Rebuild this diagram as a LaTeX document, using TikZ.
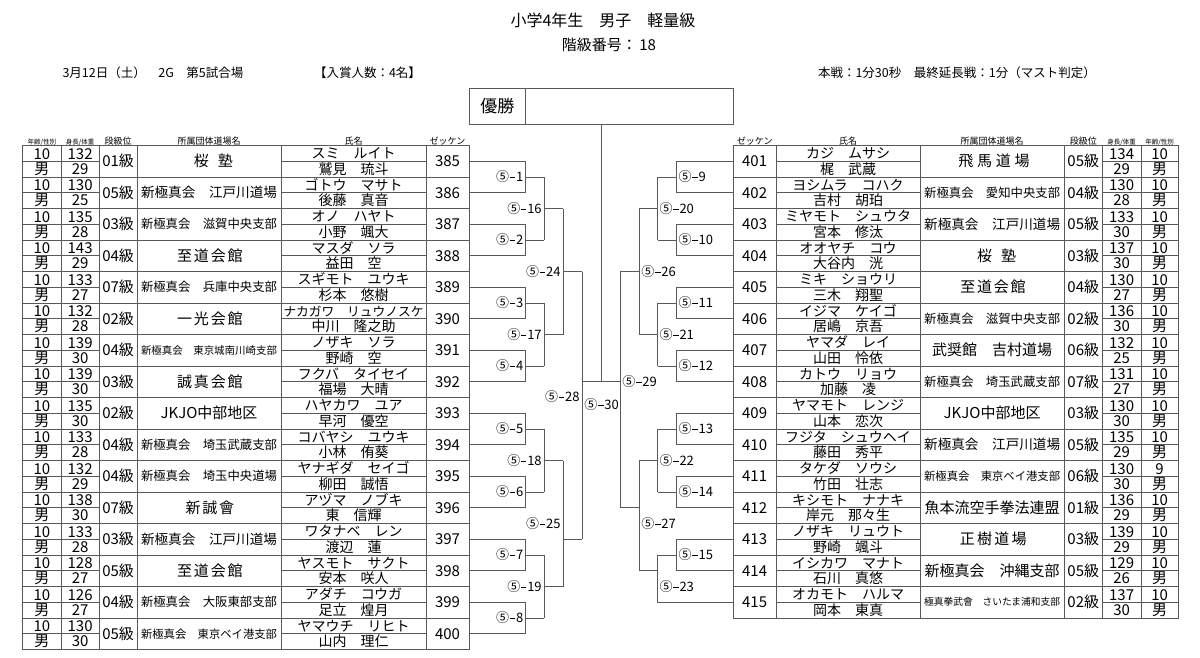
\documentclass[tikz,border=0pt]{standalone}
\usepackage{fontspec}
\setmainfont{Noto Sans CJK JP}
\usepackage{graphicx}
\newsavebox\fitbox
\newcommand\fitto[2]{\sbox\fitbox{#2}\ifdim\wd\fitbox>#1\relax\resizebox{#1}{!}{\usebox\fitbox}\else\usebox\fitbox\fi}
\newcommand\lsp[2]{{\addfontfeature{LetterSpace=#1}#2}\kern-\dimexpr0.01em*#1\relax}
\newcommand\dsh{\kern0.06em\rule[0.3em]{0.42em}{0.065em}\kern0.06em}
\newcommand\mlab[1]{⑤\dsh#1}
\begin{document}
\begin{tikzpicture}[x=1pt,y=-1pt,
  every node/.style={inner sep=0pt,outer sep=0pt},
  ln/.style={line width=0.75pt,draw=black!65},
  num/.style={font=\fontsize{15}{15}\selectfont,anchor=base},
  ctr/.style={font=\fontsize{15}{15}\selectfont,anchor=center},
  nm/.style={font=\fontsize{14}{14}\selectfont,anchor=base},
  lb/.style={font=\fontsize{13}{13}\selectfont},
  hd/.style={font=\fontsize{9}{9}\selectfont,anchor=base},
  hs/.style={font=\fontsize{6.5}{6.5}\selectfont,anchor=base}]
\useasboundingbox (0,0) rectangle (1200,657);
\fill[white] (0,0) rectangle (1200,657);
% titles
\node[font=\fontsize{16}{16}\selectfont] (title) at (603,20) {小学4年生　男子　軽量級};
\node[font=\fontsize{15}{15}\selectfont] (cls) at (609,45) {階級番号：\,18};
\node[font=\fontsize{12.5}{12.5}\selectfont,anchor=west] (info1) at (62.5,73) {3月12日（土）　2G　第5試合場};
\node[font=\fontsize{12.5}{12.5}\selectfont,anchor=west] (info2) at (314,73) {【入賞人数：4名】};
\node[font=\fontsize{12.5}{12.5}\selectfont,anchor=west] (info3) at (818,73) {本戦：1分30秒　最終延長戦：1分（マスト判定）};
% champion box
\draw[ln] (469,88.3) rectangle (733,124.3);
\draw[ln] (525.7,88.3) -- (525.7,124.3);
\node[font=\fontsize{17}{17}\selectfont] (champ) at (497.4,106.3) {優勝};
% left headers
\node[hs] (lh1) at (41.85,144) {年齢/性別};
\node[hs] (lh2) at (80.15,144) {身長/体重};
\node[hd] (lh3) at (118.15,144) {段級位};
\node[hd] (lh4) at (209,144) {所属団体道場名};
\node[hd] (lh5) at (353.5,144) {氏名};
\node[hd] (lh6) at (447.5,144) {ゼッケン};
% right headers
\node[hd] (rh6) at (754.65,144) {ゼッケン};
\node[hd] (rh5) at (848,144) {氏名};
\node[hd] (rh4) at (992.15,144) {所属団体道場名};
\node[hd] (rh3) at (1083.3,144) {段級位};
\node[hs] (rh2) at (1121.65,144) {身長/体重};
\node[hs] (rh1) at (1159.65,144) {年齢/性別};
% left table grid
\draw[ln] (22.7,145.5) rectangle (469,649.5);
\foreach \x in {61,99.3,137,281,426} \draw[ln] (\x,145.5) -- (\x,649.5);
\foreach \n in {1,...,15} \draw[ln] (22.7,145.5+31.5*\n) -- (469,145.5+31.5*\n);
\foreach \n in {0,...,15} {
  \draw[ln] (22.7,161.25+31.5*\n) -- (99.3,161.25+31.5*\n);
  \draw[ln] (281,161.25+31.5*\n) -- (426,161.25+31.5*\n);
}
% right table grid
\draw[ln] (733.3,145.5) rectangle (1178.3,618);
\foreach \x in {776,920,1064.3,1102.3,1141} \draw[ln] (\x,145.5) -- (\x,618);
\foreach \n in {1,...,14} \draw[ln] (733.3,145.5+31.5*\n) -- (1178.3,145.5+31.5*\n);
\foreach \n in {0,...,14} {
  \draw[ln] (776,161.25+31.5*\n) -- (920,161.25+31.5*\n);
  \draw[ln] (1102.3,161.25+31.5*\n) -- (1178.3,161.25+31.5*\n);
}
% left data
\foreach \ag/\sx/\hh/\ww/\rk/\dj/\ka/\kj/\zk [count=\n from 0] in {
 10/男/132/29/01級/\lsp{60}{桜塾}/スミ　ルイト/鷲見　琉斗/385,
 10/男/130/25/05級/新極真会　江戸川道場/ゴトウ　マサト/後藤　真音/386,
 10/男/135/28/03級/新極真会　滋賀中央支部/オノ　ハヤト/小野　颯大/387,
 10/男/143/29/04級/\lsp{12}{至道会館}/マスダ　ソラ/益田　空/388,
 10/男/133/27/07級/新極真会　兵庫中央支部/スギモト　ユウキ/杉本　悠樹/389,
 10/男/132/28/02級/\lsp{12}{一光会館}/ナカガワ　リュウノスケ/中川　隆之助/390,
 10/男/139/30/04級/新極真会　東京城南川崎支部/ノザキ　ソラ/野崎　空/391,
 10/男/139/30/03級/\lsp{12}{誠真会館}/フクバ　タイセイ/福場　大晴/392,
 10/男/135/30/02級/JKJO中部地区/ハヤカワ　ユア/早河　優空/393,
 10/男/133/28/04級/新極真会　埼玉武蔵支部/コバヤシ　ユウキ/小林　侑葵/394,
 10/男/132/29/04級/新極真会　埼玉中央道場/ヤナギダ　セイゴ/柳田　誠悟/395,
 10/男/138/30/07級/\lsp{12}{新誠會}/アヅマ　ノブキ/東　信輝/396,
 10/男/133/28/03級/新極真会　江戸川道場/ワタナベ　レン/渡辺　蓮/397,
 10/男/128/27/05級/\lsp{12}{至道会館}/ヤスモト　サクト/安本　咲人/398,
 10/男/126/27/04級/新極真会　大阪東部支部/アダチ　コウガ/足立　煌月/399,
 10/男/130/30/05級/新極真会　東京ベイ港支部/ヤマウチ　リヒト/山内　理仁/400}{
  \pgfmathsetmacro\yt{145.5+31.5*\n}
  \node[num] (la\n) at (41.85,\yt+13.5) {\ag};
  \node[num] (ls\n) at (41.85,\yt+28.8) {\sx};
  \node[num] (lh\n) at (80.15,\yt+13.5) {\hh};
  \node[num] (lw\n) at (80.15,\yt+28.8) {\ww};
  \node[ctr] (lr\n) at (118.15,\yt+15.75) {\rk};
  \node[ctr] (ld\n) at (209,\yt+15.75) {\fitto{136pt}{\dj}};
  \node[nm] (lk\n) at (353.5,\yt+13.3) {\fitto{140pt}{\ka}};
  \node[nm] (lj\n) at (353.5,\yt+28.8) {\fitto{140pt}{\kj}};
  \node[ctr] (lz\n) at (447.5,\yt+15.75) {\zk};
}
% right data
\foreach \zk/\ka/\kj/\dj/\rk/\hh/\ww/\ag/\sx [count=\n from 0] in {
 401/カジ　ムサシ/梶　武蔵/\lsp{25}{飛馬道場}/05級/134/29/10/男,
 402/ヨシムラ　コハク/吉村　胡珀/新極真会　愛知中央支部/04級/130/28/10/男,
 403/ミヤモト　シュウタ/宮本　修汰/新極真会　江戸川道場/05級/133/30/10/男,
 404/オオヤチ　コウ/大谷内　洸/\lsp{60}{桜塾}/03級/137/30/10/男,
 405/ミキ　ショウリ/三木　翔聖/\lsp{12}{至道会館}/04級/130/27/10/男,
 406/イジマ　ケイゴ/居嶋　京吾/新極真会　滋賀中央支部/02級/136/30/10/男,
 407/ヤマダ　レイ/山田　怜依/武奨館　吉村道場/06級/132/25/10/男,
 408/カトウ　リョウ/加藤　凌/新極真会　埼玉武蔵支部/07級/131/27/10/男,
 409/ヤマモト　レンジ/山本　恋次/JKJO中部地区/03級/130/30/10/男,
 410/フジタ　シュウヘイ/藤田　秀平/新極真会　江戸川道場/05級/135/29/10/男,
 411/タケダ　ソウシ/竹田　壮志/新極真会　東京ベイ港支部/06級/130/30/9/男,
 412/キシモト　ナナキ/岸元　那々生/魚本流空手拳法連盟/01級/136/29/10/男,
 413/ノザキ　リュウト/野崎　颯斗/\lsp{15}{正樹道場}/03級/139/29/10/男,
 414/イシカワ　マナト/石川　真悠/新極真会　沖縄支部/05級/129/26/10/男,
 415/オカモト　ハルマ/岡本　東真/極真拳武會　さいたま浦和支部/02級/137/30/10/男}{
  \pgfmathsetmacro\yt{145.5+31.5*\n}
  \node[ctr] (rz\n) at (754.65,\yt+15.75) {\zk};
  \node[nm] (rk\n) at (848,\yt+13.3) {\fitto{140pt}{\ka}};
  \node[nm] (rj\n) at (848,\yt+28.8) {\fitto{140pt}{\kj}};
  \node[ctr] (rd\n) at (992.15,\yt+15.75) {\fitto{136pt}{\dj}};
  \node[ctr] (rr\n) at (1083.3,\yt+15.75) {\rk};
  \node[num] (rh\n) at (1121.65,\yt+13.5) {\hh};
  \node[num] (rw\n) at (1121.65,\yt+28.8) {\ww};
  \node[num] (ra\n) at (1159.65,\yt+13.5) {\ag};
  \node[num] (rs\n) at (1159.65,\yt+28.8) {\sx};
}
% left bracket round 1
\foreach \m/\lab in {0/1,1/2,2/3,3/4,4/5,5/6,6/7,7/8} {
  \pgfmathsetmacro\ys{161.25+63*\m}
  \draw[ln] (469,\ys) -- (525.7,\ys) -- (525.7,\ys+31.5) -- (469,\ys+31.5);
  \draw[ln] (525.7,\ys+15.75) -- (544.3,\ys+15.75);
  \node[lb,anchor=east] (mL\lab) at (523.3,\ys+15.75) {\mlab{\lab}};
}
% left round 2
\foreach \m/\lab in {0/16,1/17,2/18,3/19} {
  \pgfmathsetmacro\ys{177+126*\m}
  \draw[ln] (544.3,\ys) -- (544.3,\ys+63);
  \draw[ln] (544.3,\ys+31.5) -- (563.3,\ys+31.5);
  \node[lb,anchor=east] (mL\lab) at (541.7,\ys+31.5) {\mlab{\lab}};
}
% left round 3
\draw[ln] (563.3,208.5) -- (563.3,334.5);
\draw[ln] (563.3,271.5) -- (582.3,271.5);
\node[lb,anchor=east] (mL24) at (560.5,271.5) {\mlab{24}};
\draw[ln] (563.3,460.5) -- (563.3,586.5);
\draw[ln] (563.3,539.25) -- (582.3,539.25);
\node[lb,anchor=east] (mL25) at (560.5,523.5) {\mlab{25}};
% left semifinal
\draw[ln] (582.3,271.5) -- (582.3,539.25);
\node[lb,anchor=east] (mL28) at (579.5,397) {\mlab{28}};
% right bracket round 1
\foreach \m/\lab in {0/9,1/10,2/11,3/12,4/13,5/14,6/15} {
  \pgfmathsetmacro\ys{161.25+63*\m}
  \draw[ln] (733.3,\ys) -- (676.7,\ys) -- (676.7,\ys+31.5) -- (733.3,\ys+31.5);
  \draw[ln] (676.7,\ys+15.75) -- (657.7,\ys+15.75);
  \node[lb,anchor=west] (mR\lab) at (678.6,\ys+15.75) {\mlab{\lab}};
}
% right round 2
\foreach \m/\lab in {0/20,1/21,2/22} {
  \pgfmathsetmacro\ys{177+126*\m}
  \draw[ln] (657.7,\ys) -- (657.7,\ys+63);
  \draw[ln] (657.7,\ys+31.5) -- (639,\ys+31.5);
  \node[lb,anchor=west] (mR\lab) at (659.5,\ys+31.5) {\mlab{\lab}};
}
\draw[ln] (657.7,555) -- (657.7,602.25) -- (733.3,602.25);
\draw[ln] (657.7,570.75) -- (639,570.75);
\node[lb,anchor=west] (mR23) at (659.5,586.5) {\mlab{23}};
% right round 3
\draw[ln] (639,208.5) -- (639,334.5);
\draw[ln] (639,271.5) -- (620,271.5);
\node[lb,anchor=west] (mR26) at (641.3,271.5) {\mlab{26}};
\draw[ln] (639,460.5) -- (639,570.75);
\draw[ln] (639,507.75) -- (620,507.75);
\node[lb,anchor=west] (mR27) at (641.3,523.5) {\mlab{27}};
% right semifinal
\draw[ln] (620,271.5) -- (620,507.75);
\node[lb,anchor=west] (mR29) at (622.3,381.75) {\mlab{29}};
% final
\draw[ln] (582.3,381.75) -- (620,381.75);
\draw[ln] (601.7,124.3) -- (601.7,381.75);
\node[lb] (mF30) at (601.5,405) {\mlab{30}};
\end{tikzpicture}
\end{document}
